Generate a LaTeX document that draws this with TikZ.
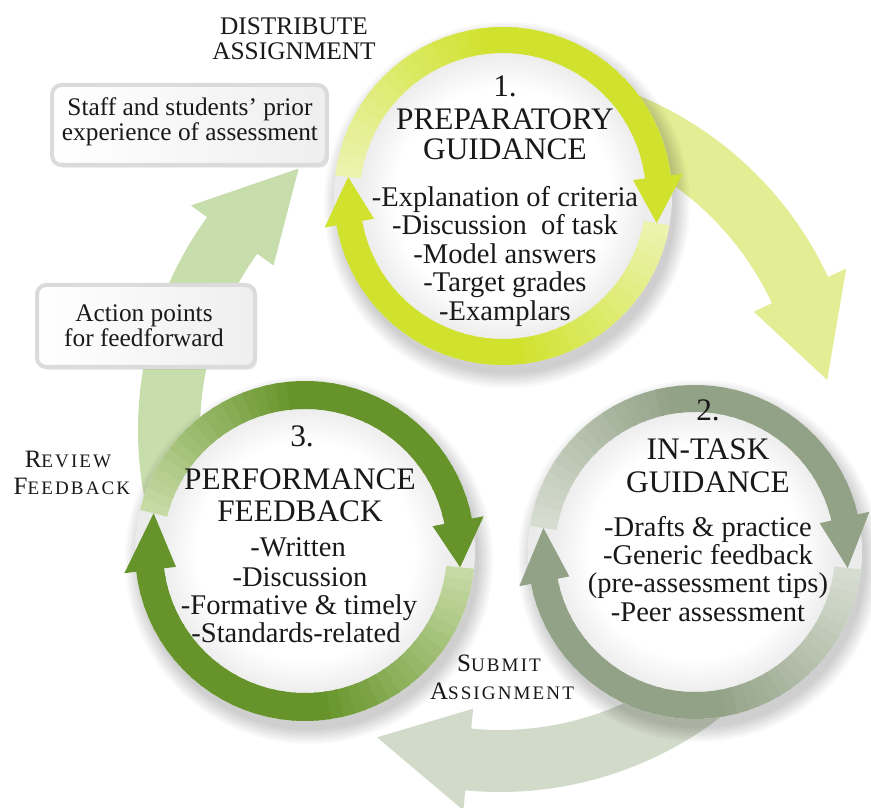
\documentclass[tikz,border=0pt]{standalone}
\usepackage{fontspec}
\setmainfont{Liberation Serif}
\newfontfamily\scfont{Liberation Serif}[LetterSpace=11]
\usetikzlibrary{shadows}
\definecolor{c1full}{RGB}{208,226,46}
\definecolor{c1fade}{RGB}{240,246,196}
\definecolor{c2full}{RGB}{146,162,134}
\definecolor{c2fade}{RGB}{226,231,221}
\definecolor{c3full}{RGB}{102,148,42}
\definecolor{c3fade}{RGB}{214,230,186}
\definecolor{a1col}{RGB}{226,237,148}
\definecolor{a2col}{RGB}{210,218,202}
\definecolor{a3col}{RGB}{200,221,172}
\definecolor{txt}{RGB}{25,25,25}
\pgfdeclareradialshading{innerglow}{\pgfpoint{0bp}{0bp}}{color(0bp)=(white); color(16bp)=(white); color(21bp)=(gray!14); color(25bp)=(gray!16); color(50bp)=(gray!16)}

% #1 centre, #2 inner r, #3 outer r, #4 start, #5 head base, #6 tip, #7 full colour, #8 fade colour
\newcommand{\ringarrow}[8]{%
  \begin{scope}[shift={(#1)}]
    \foreach \k in {0,...,39}{%
      \pgfmathsetmacro\angA{#4+(#5-#4)*\k/40}%
      \pgfmathsetmacro\angB{#4+(#5-#4)*(\k+1.25)/40}%
      \pgfmathtruncatemacro\pcA{min(100,15+85*\k/18)}%
      \fill[#7!\pcA!#8] (\angA:#2) arc[start angle=\angA,end angle=\angB,radius=#2] -- (\angB:#3) arc[start angle=\angB,end angle=\angA,radius=#3] -- cycle;
    }
    \pgfmathsetmacro\rHin{#2-12}\pgfmathsetmacro\rHout{#3+12}\pgfmathsetmacro\rMid{(#2+#3)/2}
    \fill[#7] (#5:\rHin) -- (#5:\rHout) -- (#6:\rMid) -- cycle;
  \end{scope}}

% #1 centre, #2 outer r
\newcommand{\circbase}[2]{%
  \begin{scope}[shift={(#1)}]
    \begin{scope}[shift={(4,-9)}]
      \foreach \s in {0,...,7}{\fill[black,opacity=0.022] (0,0) circle[radius=#2+2*\s];}
    \end{scope}
    \shade[shading=innerglow] (0,0) circle[radius=#2];
  \end{scope}}

\begin{document}
\begin{tikzpicture}[x=0.75pt,y=0.75pt,
  ttl/.style={font=\fontsize{23.5}{26}\selectfont, text=txt, anchor=base, inner sep=0},
  itm/.style={font=\fontsize{21.4}{24}\selectfont, text=txt, anchor=base, inner sep=0},
  lbl/.style={font=\fontsize{19}{20}\selectfont, text=txt, anchor=base, inner sep=0},
  scl/.style={font=\scfont, text=txt, anchor=base, inner sep=0},
  btxt/.style={font=\fontsize{19}{15.5}\selectfont, text=txt, align=center, inner sep=0},
  box/.style={draw=gray!28, line width=3pt, rounded corners=7pt, left color=white, right color=gray!13,
              drop shadow={opacity=0.2, shadow xshift=1.5pt, shadow yshift=-2pt}}]
\useasboundingbox (0,0) rectangle (871,807);
\fill[white] (0,0) rectangle (871,807);

\coordinate (O) at (500,377);
\coordinate (C1) at (503,611);
\coordinate (C2) at (695,255);
\coordinate (C3) at (305,256);

% big cycle arrows
\begin{scope}[shift={(O)}]
 \fill[a1col] (70:300) arc[start angle=70,end angle=25,radius=300] -- (25:280) -- (8.7:331) -- (25:382) -- (25:362) arc[start angle=25,end angle=70,radius=362] -- cycle;
 \fill[a2col] (310:300) arc[start angle=310,end angle=264.5,radius=300] -- (264.5:280) -- (248.2:331) -- (264.5:382) -- (264.5:362) arc[start angle=264.5,end angle=310,radius=362] -- cycle;
 \fill[a3col] (195:300) arc[start angle=195,end angle=144,radius=300] -- (144:280) -- (127.6:330) -- (144:382) -- (144:362) arc[start angle=144,end angle=195,radius=362] -- cycle;
\end{scope}

% circles
\circbase{C1}{169}
\circbase{C2}{167}
\circbase{C3}{170}

\ringarrow{C1}{143}{169}{173}{7}{-10}{c1full}{c1fade}
\ringarrow{C1}{143}{169}{-10}{-170}{-187}{c1full}{c1fade}
\ringarrow{C2}{140}{167}{171}{13}{-6}{c2full}{c2fade}
\ringarrow{C2}{140}{167}{-6}{-169}{-189}{c2full}{c2fade}
\ringarrow{C3}{142}{170}{166}{11}{-6}{c3full}{c3fade}
\ringarrow{C3}{142}{170}{-6}{-173}{-194}{c3full}{c3fade}

% circle 1 text
\node[ttl] (t1a) at (505,710) {1.};
\node[ttl] (t1b) at (505,677) {PREPARATORY};
\node[ttl] (t1c) at (505,647) {GUIDANCE};
\node[itm] (i1a) at (505,600) {-Explanation of criteria};
\node[itm] (i1b) at (505,572) {-Discussion~ of task};
\node[itm] (i1c) at (505,543) {-Model answers};
\node[itm] (i1d) at (505,515) {-Target grades};
\node[itm] (i1e) at (505,486) {-Examplars};

% circle 2 text
\node[ttl] (t2a) at (708,386) {2.};
\node[ttl] (t2b) at (708,347) {IN-TASK};
\node[ttl] (t2c) at (708,314) {GUIDANCE};
\node[itm] (i2a) at (708,270) {-Drafts \& practice};
\node[itm] (i2b) at (708,242) {-Generic feedback};
\node[itm] (i2c) at (708,214) {(pre-assessment tips)};
\node[itm] (i2d) at (708,185) {-Peer assessment};

% circle 3 text
\node[ttl] (t3a) at (302,360) {3.};
\node[ttl] (t3b) at (300,317) {PERFORMANCE};
\node[ttl] (t3c) at (300,285) {FEEDBACK};
\node[itm] (i3a) at (298,250) {-Written};
\node[itm] (i3b) at (300,220) {-Discussion};
\node[itm] (i3c) at (299,192) {-Formative \& timely};
\node[itm] (i3d) at (296,164) {-Standards-related};

% stage labels
\node[lbl] (d1) at (294,772) {DISTRIBUTE};
\node[lbl] (d2) at (294,747) {ASSIGNMENT};
\node[scl] (r1) at (68,339) {{\fontsize{18.75}{20}\selectfont R}{\fontsize{14.3}{20}\selectfont EVIEW}};
\node[scl] (r2) at (72,312) {{\fontsize{18.75}{20}\selectfont F}{\fontsize{14.3}{20}\selectfont EEDBACK}};
\node[scl] (s1) at (499,135) {{\fontsize{18.75}{20}\selectfont S}{\fontsize{14.3}{20}\selectfont UBMIT}};
\node[scl] (s2) at (502,107) {{\fontsize{18.75}{20}\selectfont A}{\fontsize{14.3}{20}\selectfont SSIGNMENT}};

% boxes
\node[box, minimum width=206pt, minimum height=60pt] (b1) at (189.5,682) {};
\node[btxt] (b1t) at (190,685) {Staff and students’ prior\\experience of assessment};
\node[box, minimum width=163.5pt, minimum height=61.5pt] (b2) at (146,481) {};
\node[btxt] (b2t) at (144,481) {Action points\\for feedforward};
\end{tikzpicture}
\end{document}
